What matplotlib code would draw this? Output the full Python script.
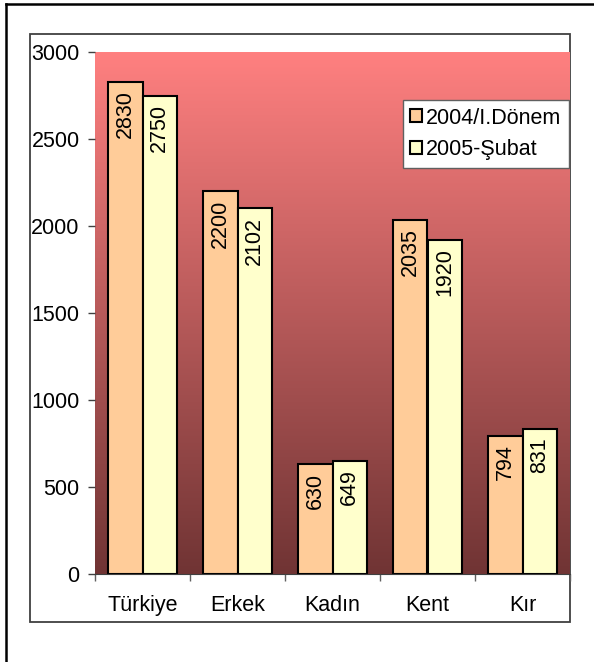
import numpy as np
import matplotlib
matplotlib.use("Agg")
import matplotlib.pyplot as plt
from matplotlib.patches import Rectangle
from matplotlib.lines import Line2D

plt.rcParams["font.family"] = ["Liberation Sans", "DejaVu Sans"]

categories = ["Türkiye", "Erkek", "Kadın", "Kent", "Kır"]
series_names = ["2004/I.Dönem", "2005-Şubat"]
values_2004 = [2830, 2200, 630, 2035, 794]
values_2005 = [2750, 2102, 649, 1920, 831]
yticks = [0, 500, 1000, 1500, 2000, 2500, 3000]

W, H = 594, 662
FS = 15.5
fig = plt.figure(figsize=(W / 100, H / 100), dpi=100)

# outer frame (only left/top visible in the picture)
fig.add_artist(Line2D([6 / W, 6 / W], [0, 1 - 3.5 / H], transform=fig.transFigure,
                      color="black", lw=1.8))
fig.add_artist(Line2D([6 / W, 1], [1 - 3.5 / H, 1 - 3.5 / H], transform=fig.transFigure,
                      color="black", lw=1.8))
# chart area box
fig.add_artist(Rectangle((30 / W, (H - 622) / H), 540 / W, 588 / H,
                         transform=fig.transFigure, facecolor="white",
                         edgecolor="#404040", lw=1.3, zorder=-1))

ax = fig.add_axes([95 / W, (H - 574) / H, 475 / W, 522 / H])

# background gradient of the plot area
top = np.array([255, 128, 128]) / 255
bottom = np.array([112, 52, 52]) / 255
t = np.linspace(0, 1, 256)[:, None]
grad = (top * (1 - t) + bottom * t)[:, None, :]
ax.imshow(grad, extent=[-0.5, 4.5, 0, 3000], aspect="auto", zorder=0,
          interpolation="bilinear")

x = np.arange(len(categories))
w = 0.36
b1 = ax.bar(x - w / 2, values_2004, w, color="#FFCC99", edgecolor="black",
            lw=1.5, label=series_names[0], zorder=2)
b2 = ax.bar(x + w / 2, values_2005, w, color="#FFFFCC", edgecolor="black",
            lw=1.5, label=series_names[1], zorder=2)

for bars, vals in ((b1, values_2004), (b2, values_2005)):
    for rect, v in zip(bars, vals):
        ax.annotate(str(v), (rect.get_x() + rect.get_width() / 2, v),
                    xytext=(0, -6), textcoords="offset points",
                    rotation=90, ha="center", va="top", fontsize=FS, zorder=3)

ax.set_xlim(-0.5, 4.5)
ax.set_ylim(0, 3000)
ax.set_yticks(yticks)
ax.set_yticklabels([str(v) for v in yticks], fontsize=FS)
ax.set_xticks(x)
ax.set_xticklabels(categories, fontsize=FS)
ax.set_xticks(np.arange(-0.5, 5, 1), minor=True)
ax.tick_params(axis="x", which="major", length=0, pad=15)
ax.tick_params(axis="x", which="minor", length=5, color="#606060", width=1)
ax.tick_params(axis="y", length=5, color="#404040", width=1, pad=6)

for s in ("top", "right", "left"):
    ax.spines[s].set_visible(False)
ax.spines["bottom"].set_color("#404040")
ax.spines["bottom"].set_zorder(4)

leg = fig.legend(loc="upper right", bbox_to_anchor=(569 / W, 1 - 100 / H),
                 bbox_transform=fig.transFigure, fontsize=FS, fancybox=False,
                 framealpha=1, edgecolor="#606060", handlelength=0.55,
                 handleheight=0.55, handletextpad=0.2, borderpad=0.35,
                 labelspacing=0.5, borderaxespad=0)
leg.get_frame().set_linewidth(1.0)
for h in leg.legend_handles:
    h.set_linewidth(1.5)

fig.savefig("out.png", dpi=100)
